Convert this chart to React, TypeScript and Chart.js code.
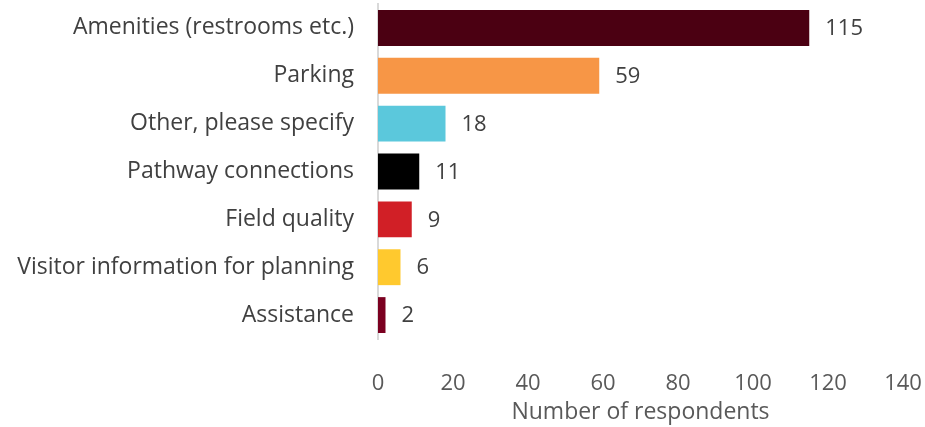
import React, { useEffect, useRef } from "react";
import { Chart, registerables } from "chart.js";

Chart.register(...registerables);

const categories = [
  "Amenities (restrooms etc.)",
  "Parking",
  "Other, please specify",
  "Pathway connections",
  "Field quality",
  "Visitor information for planning",
  "Assistance",
];
const values = [115, 59, 18, 11, 9, 6, 2];
const barColors = ["#4B0012", "#F79646", "#5BC8DC", "#000000", "#D11F26", "#FFC92E", "#7B0020"];
const xTitle = "Number of respondents";

const FONT = "'Open Sans', sans-serif";
const SIZE = 22;
const LABEL_SIZE = 23;

const dataLabels = {
  id: "dataLabels",
  afterDatasetsDraw(chart: any) {
    const ctx = chart.ctx;
    const meta = chart.getDatasetMeta(0);
    ctx.save();
    ctx.font = `${SIZE}px ${FONT}`;
    ctx.fillStyle = "#404040";
    ctx.textAlign = "left";
    ctx.textBaseline = "middle";
    meta.data.forEach((bar: any, i: number) => {
      ctx.fillText(String(values[i]), bar.x + 16, bar.y + 1);
    });
    ctx.restore();
  },
};

function zeroPad(scale: any) {
  scale.paddingLeft = 0;
  scale.paddingRight = 0;
  scale.paddingTop = 0;
  scale.paddingBottom = 0;
}

export default function App() {
  const ref = useRef<HTMLCanvasElement>(null);
  useEffect(() => {
    document.body.style.margin = "0";
    const chart = new Chart(ref.current!, {
      type: "bar",
      data: {
        labels: categories,
        datasets: [
          {
            data: values,
            backgroundColor: barColors,
            barPercentage: 0.75,
            categoryPercentage: 1,
          },
        ],
      },
      options: {
        indexAxis: "y",
        animation: false,
        responsive: false,
        layout: { padding: { top: 4, right: 22, left: 0, bottom: 0 } },
        plugins: { legend: { display: false }, tooltip: { enabled: false } },
        scales: {
          x: {
            min: 0,
            max: 140,
            ticks: { stepSize: 20, color: "#595959", font: { family: FONT, size: SIZE }, padding: 32, maxRotation: 0 },
            grid: { display: false, drawTicks: false },
            border: { display: false },
            title: { display: true, text: xTitle, color: "#595959", font: { family: FONT, size: LABEL_SIZE }, padding: { top: 2, bottom: 1 } },
            afterFit(scale: any) {
              scale.height = 88;
              zeroPad(scale);
            },
          },
          y: {
            ticks: { color: "#404040", font: { family: FONT, size: LABEL_SIZE }, padding: 24 },
            grid: { display: false, drawTicks: false },
            border: { display: true, color: "#D9D9D9", width: 2 },
            afterFit(scale: any) {
              scale.width = 378;
              zeroPad(scale);
            },
          },
        },
      },
      plugins: [dataLabels],
    });
    return () => chart.destroy();
  }, []);
  return (
    <div style={{ width: 925, height: 427 }}>
      <canvas ref={ref} width={925} height={427} />
    </div>
  );
}
